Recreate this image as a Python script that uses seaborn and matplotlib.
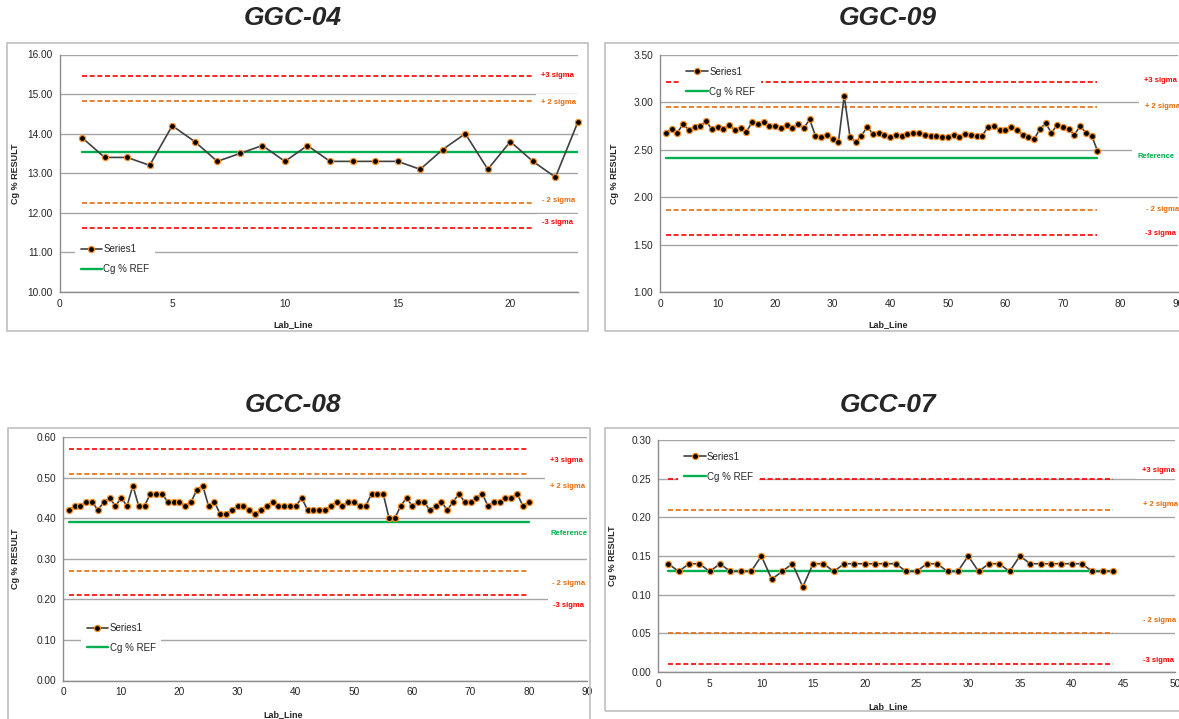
import numpy as np
import matplotlib
matplotlib.use("Agg")
import matplotlib.pyplot as plt
from matplotlib.lines import Line2D
from matplotlib.patches import Rectangle
import seaborn as sns

# chart titles and values
titles = ["GGC-04", "GGC-09", "GCC-08", "GCC-07"]

ggc04 = [13.9, 13.4, 13.4, 13.2, 14.2, 13.8, 13.3, 13.5, 13.7, 13.3, 13.7, 13.3,
         13.3, 13.3, 13.3, 13.1, 13.6, 14.0, 13.1, 13.8, 13.3, 12.9, 14.3]

ggc09 = [2.68, 2.72, 2.68, 2.77, 2.71, 2.74, 2.75, 2.80, 2.72, 2.74, 2.72, 2.76,
         2.71, 2.73, 2.69, 2.79, 2.77, 2.79, 2.75, 2.75, 2.73, 2.76, 2.73, 2.77,
         2.73, 2.82, 2.65, 2.63, 2.66, 2.61, 2.58, 3.07, 2.64, 2.58, 2.65, 2.74,
         2.67, 2.68, 2.66, 2.63, 2.66, 2.65, 2.67, 2.68, 2.68, 2.66, 2.65, 2.65,
         2.64, 2.64, 2.66, 2.64, 2.67, 2.66, 2.65, 2.65, 2.74, 2.75, 2.71, 2.71,
         2.74, 2.71, 2.66, 2.64, 2.61, 2.72, 2.78, 2.68, 2.76, 2.74, 2.72, 2.66,
         2.75, 2.68, 2.65, 2.49]

gcc08 = [0.42, 0.43, 0.43, 0.44, 0.44, 0.42, 0.44, 0.45, 0.43, 0.45, 0.43, 0.48,
         0.43, 0.43, 0.46, 0.46, 0.46, 0.44, 0.44, 0.44, 0.43, 0.44, 0.47, 0.48,
         0.43, 0.44, 0.41, 0.41, 0.42, 0.43, 0.43, 0.42, 0.41, 0.42, 0.43, 0.44,
         0.43, 0.43, 0.43, 0.43, 0.45, 0.42, 0.42, 0.42, 0.42, 0.43, 0.44, 0.43,
         0.44, 0.44, 0.43, 0.43, 0.46, 0.46, 0.46, 0.40, 0.40, 0.43, 0.45, 0.43,
         0.44, 0.44, 0.42, 0.43, 0.44, 0.42, 0.44, 0.46, 0.44, 0.44, 0.45, 0.46,
         0.43, 0.44, 0.44, 0.45, 0.45, 0.46, 0.43, 0.44]

gcc07 = [0.14, 0.13, 0.14, 0.14, 0.13, 0.14, 0.13, 0.13, 0.13, 0.15, 0.12, 0.13,
         0.14, 0.11, 0.14, 0.14, 0.13, 0.14, 0.14, 0.14, 0.14, 0.14, 0.14, 0.13,
         0.13, 0.14, 0.14, 0.13, 0.13, 0.15, 0.13, 0.14, 0.14, 0.13, 0.15, 0.14,
         0.14, 0.14, 0.14, 0.14, 0.14, 0.13, 0.13, 0.13]

series = [ggc04, ggc09, gcc08, gcc07]
ref_values = [13.54, 2.41, 0.39, 0.13]
sigma_values = [0.64, 0.27, 0.06, 0.04]
sigma_end = [21, 76, 80, 44]          # last Lab_Line the sigma lines reach
sigma_steps = [3, 2, -2, -3]
sigma_names = ["+3 sigma", "+ 2 sigma", "- 2 sigma", "-3 sigma"]
show_reference_label = [False, True, True, False]

y_ranges = [(10, 16, 1), (1, 3.5, 0.5), (0, 0.6, 0.1), (0, 0.3, 0.05)]
x_ranges = [(0, 23, 5), (0, 90, 10), (0, 90, 10), (0, 50, 5)]

RED = "#ff0000"
ORANGE = "#e46c0a"
GREEN = "#00b050"
GRID = "#a6a6a6"

W, H = 1179, 719
sns.set_style("white")
plt.rcParams["font.family"] = ["Liberation Sans", "DejaVu Sans"]

fig = plt.figure(figsize=(W / 100, H / 100), dpi=100)


def px_axes(left, top, right, bottom):
    return fig.add_axes([left / W, 1 - bottom / H, (right - left) / W, (bottom - top) / H])


# layout in pixels: axes box, chart border, title centre, label positions
axes_px = [(59.5, 54.5, 578, 292), (660, 55, 1178, 292),
           (63, 437, 587, 680.5), (658, 440, 1175, 672)]
border_px = [(6.5, 43.5, 588, 331), (605, 43.5, 1190, 331),
             (8, 428, 590, 730), (605, 428, 1190, 711)]
title_px = [(293, 18), (888, 18), (293, 405), (888, 405)]
ylabel_x = [20, 619, 20, 617]
xlabel_px = [(293, 320), (888, 320), (283, 710), (888, 702)]

# label positions (data coords) for the sigma text boxes
label_pos = [
    {"+3 sigma": (22.1, 15.48), "+ 2 sigma": (22.15, 14.78), "- 2 sigma": (22.15, 12.31),
     "-3 sigma": (22.1, 11.75)},
    {"+3 sigma": (87.0, 3.23), "+ 2 sigma": (87.3, 2.955), "Reference": (86.2, 2.43),
     "- 2 sigma": (87.3, 1.875), "-3 sigma": (87.0, 1.62)},
    {"+3 sigma": (86.4, 0.541), "+ 2 sigma": (86.7, 0.479), "Reference": (87.0, 0.363),
     "- 2 sigma": (86.9, 0.240), "-3 sigma": (86.9, 0.184)},
    {"+3 sigma": (48.4, 0.261), "+ 2 sigma": (48.6, 0.217), "- 2 sigma": (48.5, 0.066),
     "-3 sigma": (48.4, 0.0154)},
]
legend_anchor = [("lower left", (0.02, 0.03)), ("upper left", (0.03, 0.995)),
                 ("lower left", (0.025, 0.07)), ("upper left", (0.03, 0.995))]

for i in range(4):
    bl, bt, br, bb = border_px[i]
    fig.patches.append(Rectangle((bl / W, 1 - bb / H), (br - bl) / W, (bb - bt) / H,
                                 transform=fig.transFigure, fill=False,
                                 edgecolor="#bfbfbf", linewidth=1.2))
    tx, ty = title_px[i]
    fig.text(tx / W, 1 - ty / H, titles[i], ha="center", va="center",
             fontsize=19, fontweight="bold", fontstyle="italic")

    left, top, right, bottom = axes_px[i]
    ax = px_axes(left, top, right, bottom)
    vals = series[i]
    xs = np.arange(1, len(vals) + 1)
    ref = ref_values[i]
    sig = sigma_values[i]

    # sigma limits
    xs_sig = np.arange(1, sigma_end[i] + 1)
    for k in sigma_steps:
        col = RED if abs(k) == 3 else ORANGE
        ax.plot(xs_sig, np.full(len(xs_sig), ref + k * sig), color=col,
                linewidth=1.2, linestyle=(0, (3, 1.6)), zorder=2)

    # reference line
    sns.lineplot(x=xs, y=np.full(len(xs), ref), ax=ax, color=GREEN,
                 linewidth=1.7, zorder=3)
    # measured series
    sns.lineplot(x=xs, y=vals, ax=ax, color="#404040", linewidth=1.2,
                 marker="o", markersize=4.4, markerfacecolor="black",
                 markeredgecolor="#f28c28", markeredgewidth=0.9, zorder=4,
                 clip_on=False)

    x0, x1, xs_step = x_ranges[i]
    y0, y1, ys_step = y_ranges[i]
    ax.set_xlim(x0, x1)
    ax.set_ylim(y0, y1)
    ax.set_xticks(np.arange(x0, x1 + 0.001, xs_step))
    ax.set_yticks(np.arange(y0, y1 + ys_step / 2, ys_step))
    ax.yaxis.set_major_formatter(matplotlib.ticker.FormatStrFormatter("%.2f"))
    ax.tick_params(axis="both", labelsize=7.3, colors="#8c8c8c", labelcolor="#262626",
                   length=3, width=0.9, direction="out", pad=2)
    ax.grid(axis="y", color=GRID, linewidth=1)
    ax.set_axisbelow(True)
    for side in ("top", "right"):
        ax.spines[side].set_visible(False)
    for side in ("left", "bottom"):
        ax.spines[side].set_color("#8c8c8c")
        ax.spines[side].set_linewidth(1)

    ax.set_ylabel("Cg % RESULT", fontsize=6.5, fontweight="bold")
    ax.set_xlabel("Lab_Line", fontsize=6.5, fontweight="bold")
    ax.yaxis.set_label_coords((ylabel_x[i] - left) / (right - left), 0.5)
    lx, ly = xlabel_px[i]
    ax.xaxis.set_label_coords((lx - left) / (right - left), (bottom - ly) / (bottom - top))

    # sigma text boxes
    for k, name in zip(sigma_steps, sigma_names):
        px, py = label_pos[i][name]
        ax.text(px, py, name, color=RED if abs(k) == 3 else ORANGE, fontsize=5.5,
                fontweight="bold", ha="center", va="center", clip_on=False, zorder=6,
                bbox=dict(facecolor="white", edgecolor="none", pad=4))
    if show_reference_label[i]:
        px, py = label_pos[i]["Reference"]
        ax.text(px, py, "Reference", color=GREEN, fontsize=5.5, fontweight="bold",
                ha="center", va="center", clip_on=False, zorder=6,
                bbox=dict(facecolor="white", edgecolor="none", pad=4))

    handles = [Line2D([], [], color="#404040", linewidth=1.2, marker="o", markersize=4.4,
                      markerfacecolor="black", markeredgecolor="#f28c28",
                      markeredgewidth=0.9),
               Line2D([], [], color=GREEN, linewidth=1.7)]
    loc, anchor = legend_anchor[i]
    leg = ax.legend(handles, ["Series1", "Cg % REF"], loc=loc, bbox_to_anchor=anchor,
                    fontsize=7, frameon=True, facecolor="white", edgecolor="none",
                    framealpha=1, fancybox=False, handlelength=2.2, handletextpad=0.15,
                    labelspacing=1.0, borderpad=0.6)
    leg.set_zorder(7)

fig.savefig("out.png", dpi=100)
